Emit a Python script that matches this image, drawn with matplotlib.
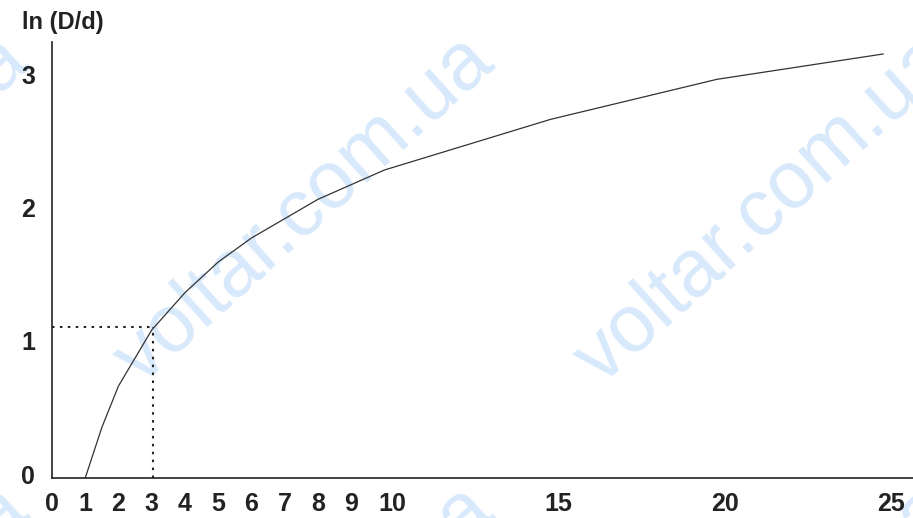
import matplotlib.pyplot as plt
import matplotlib.transforms as mtransforms

# D/d and ln(D/d)
ratio = [1, 1.5, 2, 3, 4, 5, 6, 8, 10, 15, 20, 25]
ln_ratio = [0.0, 0.38, 0.69, 1.11, 1.39, 1.62, 1.80, 2.09, 2.31, 2.69, 2.99, 3.18]

# dotted guide at D/d = 3
guide_x = 3.05
guide_y = 1.13

x_ticks = [0, 1, 2, 3, 4, 5, 6, 7, 8, 9, 10, 15, 20, 25]
y_ticks = [0, 1, 2, 3]

plt.rcParams['font.family'] = ['Liberation Sans', 'DejaVu Sans']

fig = plt.figure(figsize=(9.13, 5.18), dpi=100)
ax = fig.add_axes([52 / 913, 40 / 518, 861 / 913, 436 / 518])
ax.set_facecolor('none')

# watermark tiles
wm_color = '#d8e9fc'
for cx in (-160, 305, 765):
    for cy in (210, 660):
        fig.text(cx / 913, 1 - cy / 518, 'voltar.com.ua', fontsize=58,
                 color=wm_color, rotation=42, rotation_mode='anchor',
                 ha='center', va='center', zorder=-1)

ax.plot(ratio, ln_ratio, color='#333333', lw=0.9)
ax.plot([0, guide_x], [guide_y, guide_y], color='#222222', lw=1.5,
        linestyle=(0, (1.2, 2.6)))
ax.plot([guide_x, guide_x], [0, guide_y], color='#222222', lw=1.5,
        linestyle=(0, (1.2, 2.6)))

ax.set_xlim(0, 25.9)
ax.set_ylim(0, 3.27)

for s in ('top', 'right'):
    ax.spines[s].set_visible(False)
for s in ('left', 'bottom'):
    ax.spines[s].set_linewidth(1.2)
    ax.spines[s].set_color('#222222')

ax.set_xticks(x_ticks)
ax.set_xticklabels([str(t) for t in x_ticks])
ax.set_yticks(y_ticks)
ax.set_yticklabels([str(t) for t in y_ticks])
ax.tick_params(axis='x', length=0, pad=10, labelsize=18, labelcolor='#222222')
ax.tick_params(axis='y', length=0, pad=12, labelsize=18, labelcolor='#222222')
for lab in ax.get_xticklabels() + ax.get_yticklabels():
    lab.set_fontweight('bold')

# two-digit x labels sit a little right of their tick in the original
for lab in ax.get_xticklabels():
    if len(lab.get_text()) > 1:
        lab.set_transform(lab.get_transform() +
                          mtransforms.ScaledTranslation(8 / 100, 0, fig.dpi_scale_trans))
for lab in ax.get_yticklabels():
    lab.set_transform(lab.get_transform() +
                      mtransforms.ScaledTranslation(0, 4 / 100, fig.dpi_scale_trans))

fig.text(22 / 913, 1 - 22 / 518, 'ln (D/d)', fontsize=17, fontweight='bold',
         color='#222222', ha='left', va='center')

fig.savefig('out.png', dpi=100)
